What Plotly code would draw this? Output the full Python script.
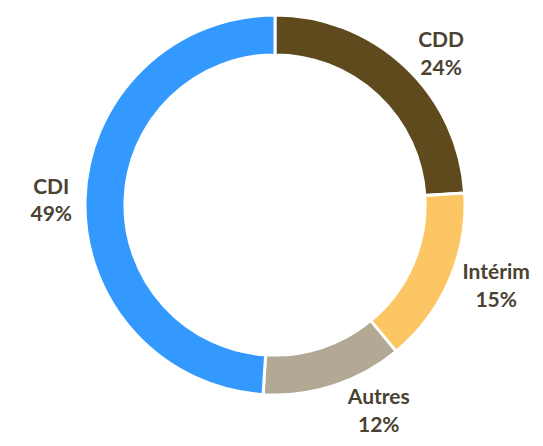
import plotly.graph_objects as go

labels = ["CDD", "Intérim", "Autres", "CDI"]
values = [24, 15, 12, 49]
colors = ["#5e4a1c", "#fdc665", "#b2a995", "#3399fe"]

W, H = 543, 446
# page body adds an 8px offset
cx, cy, r = 267, 197, 190

fig = go.Figure(go.Pie(
    labels=labels,
    values=values,
    sort=False,
    direction="clockwise",
    rotation=0,
    hole=0.79,
    marker=dict(colors=colors, line=dict(color="white", width=3)),
    texttemplate="<b>%{label}<br>%{value}%</b>",
    textposition="outside",
    textfont=dict(family="Lato", size=21, color="#4a4232"),
    showlegend=False,
    domain=dict(x=[(cx - r) / W, (cx + r) / W], y=[(H - cy - r) / H, (H - cy + r) / H]),
))

fig.update_layout(
    width=W, height=H,
    margin=dict(l=0, r=0, t=0, b=0),
    paper_bgcolor="white",
    plot_bgcolor="white",
)

fig.write_html("out.html")
